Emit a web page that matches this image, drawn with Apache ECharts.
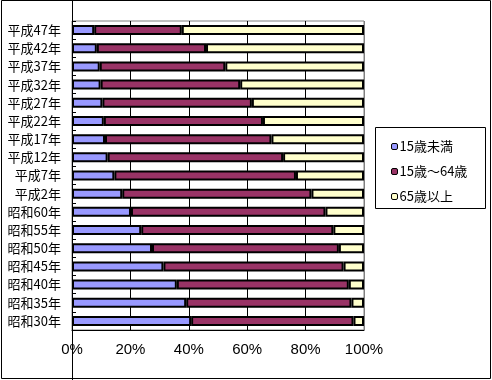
<!DOCTYPE html>
<html><head><meta charset="utf-8">
<script src="https://cdn.jsdelivr.net/npm/echarts@6/dist/echarts.min.js"></script>
<style>html,body{margin:0;padding:0;background:#fff}#c{width:492px;height:380px}</style>
</head><body><div id="c"></div>
<script>
const categories = ['昭和30年','昭和35年','昭和40年','昭和45年','昭和50年','昭和55年','昭和60年','平成2年','平成7年','平成12年','平成17年','平成22年','平成27年','平成32年','平成37年','平成42年','平成47年'];
const under15 = [40.8,39.1,35.9,31.3,27.4,23.7,20.2,17.2,14.5,12.2,11.3,10.9,10.4,9.8,9.5,8.5,7.6];
const age15to64 = [55.6,56.6,58.9,61.7,64.0,65.8,66.6,64.8,62.2,60.1,57.0,54.5,51.2,47.8,43.0,37.4,30.0];
const over65 = [3.6,4.3,5.2,7.0,8.6,10.5,13.2,18.0,23.3,27.7,31.7,34.6,38.4,42.4,47.5,54.1,62.4];
const seriesNames = ['15歳未満','15歳～64歳','65歳以上'];
const xTicks = [0,20,40,60,80,100];

const colors = ['#9999FF','#993366','#FFFFCC'];
const font = "'Noto Sans CJK JP', sans-serif";
const chart = echarts.init(document.getElementById('c'));
const mk = (name, data, i) => ({
  name, type:'bar', stack:'a', data, barWidth:10,
  itemStyle:{color:colors[i], borderColor:'#000', borderWidth:2},
  emphasis:{disabled:true}
});
chart.setOption({
  animation:false,
  grid:{left:72, right:128, top:21, bottom:50, show:true, borderColor:'#808080', borderWidth:1},
  xAxis:{type:'value', min:xTicks[0], max:xTicks[xTicks.length-1], interval:20,
    axisLine:{show:true, lineStyle:{color:'#000'}},
    axisTick:{show:false},
    axisLabel:{formatter:'{value}%', color:'#000', fontFamily:"'Liberation Sans', sans-serif", fontSize:15, margin:12},
    splitLine:{show:true, lineStyle:{color:['#000','#000','#000','#000','#000','#808080'], width:1}}},
  yAxis:{type:'category', data:categories,
    axisLine:{show:true, lineStyle:{color:'#000'}},
    axisTick:{show:true, inside:true, length:4, lineStyle:{color:'#000'}},
    axisLabel:{color:'#000', fontFamily:font, fontSize:13, margin:11}},
  legend:{orient:'vertical', left:386, top:135, itemWidth:6, itemHeight:6, itemGap:12,
    data:seriesNames.map((n,i)=>({name:n, itemStyle:{color:colors[i], borderColor:'#000', borderWidth:1}})),
    textStyle:{color:'#000', fontFamily:font, fontSize:13, padding:[0,0,0,-3]}},
  graphic:[
    {type:'rect', shape:{x:1.5, y:0.5, width:489, height:378}, style:{fill:null, stroke:'#000', lineWidth:1}, silent:true},
    {type:'line', shape:{x1:72.5, y1:0, x2:72.5, y2:380}, style:{stroke:'#000', lineWidth:1}, silent:true},
    {type:'rect', shape:{x:375.5, y:127.5, width:110, height:81}, style:{fill:null, stroke:'#000', lineWidth:1}, silent:true}
  ],
  series:[mk(seriesNames[0], under15, 0), mk(seriesNames[1], age15to64, 1), mk(seriesNames[2], over65, 2)]
});
</script></body></html>
